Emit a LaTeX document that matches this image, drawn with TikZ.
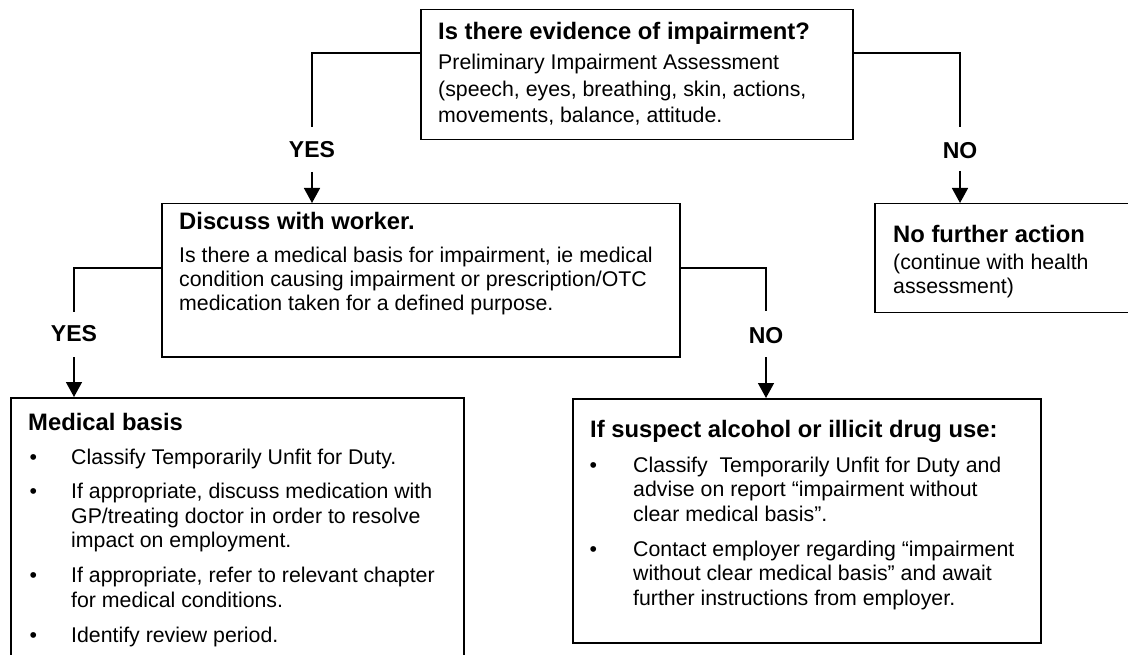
\documentclass[tikz,border=0pt]{standalone}
\usepackage{fontspec}
\setmainfont{Liberation Sans}
\usetikzlibrary{arrows.meta}
\renewcommand{\arraystretch}{1}
\begin{document}
\begin{tikzpicture}[x=1pt,y=-1pt,
  box/.style={draw, line width=1.5pt, inner sep=0pt, anchor=north west},
  conn/.style={line width=1.5pt},
  arr/.style={line width=1.5pt, -{Triangle[length=15pt,width=16pt]}},
  lbl/.style={font=\fontsize{23}{26}\selectfont\bfseries, inner sep=0pt},
  head/.style={font=\fontsize{23.8}{26}\selectfont\bfseries, anchor=base west, inner sep=0pt},
  body/.style={anchor=base west, inner sep=0pt},
]
\useasboundingbox (0,0) rectangle (1128,655);

% boxes
\node[box, minimum width=432pt, minimum height=130pt] (q1) at (420,9) {};
\node[box, minimum width=518pt, minimum height=153pt] (q2) at (161,203) {};
\node[box, minimum width=257pt, minimum height=109pt] (nfa) at (874,203) {};
\node[box, minimum width=453pt, minimum height=270pt] (med) at (10,397) {};
\node[box, minimum width=468pt, minimum height=244pt] (sus) at (572,398) {};

% box texts
\node[head] (q1h) at (438,40) {Is there evidence of impairment?};
\node[body] (q1b) at (438,70) {\fontsize{21.3}{26.5}\selectfont
  \begin{tabular}[t]{@{}l@{}}
  Preliminary Impairment Assessment\\
  (speech, eyes, breathing, skin, actions,\\
  movements, balance, attitude.
  \end{tabular}};

\node[head] (q2h) at (179,230) {Discuss with worker.};
\node[body] (q2b) at (179,263) {\fontsize{21.3}{24}\selectfont
  \begin{tabular}[t]{@{}l@{}}
  Is there a medical basis for impairment, ie medical\\
  condition causing impairment or prescription/OTC\\
  medication taken for a defined purpose.
  \end{tabular}};

\node[head] (nfah) at (893,243) {No further action};
\node[body] (nfab) at (893,270) {\fontsize{21.3}{23.5}\selectfont
  \begin{tabular}[t]{@{}l@{}}
  (continue with health\\
  assessment)
  \end{tabular}};

\node[head] (medh) at (28,430) {Medical basis};
\node[body] (medb) at (29.5,464) {\fontsize{21.3}{24.5}\selectfont
  \begin{tabular}[t]{@{}p{41.5pt}@{}l@{}}
  •& Classify Temporarily Unfit for Duty.\\[10pt]
  •& If appropriate, discuss medication with\\
   & GP/treating doctor in order to resolve\\
   & impact on employment.\\[10.5pt]
  •& If appropriate, refer to relevant chapter\\
   & for medical conditions.\\[10.5pt]
  •& Identify review period.
  \end{tabular}};

\node[head] (sush) at (590,437) {If suspect alcohol or illicit drug use:};
\node[body] (susb) at (589.5,472) {\fontsize{21.3}{24.5}\selectfont
  \begin{tabular}[t]{@{}p{43.5pt}@{}l@{}}
  •& Classify\ \ Temporarily Unfit for Duty and\\
   & advise on report “impairment without\\
   & clear medical basis”.\\[10.5pt]
  •& Contact employer regarding “impairment\\
   & without clear medical basis” and await\\
   & further instructions from employer.
  \end{tabular}};

% decision labels
\node[lbl] (yes1) at (312,150) {YES};
\node[lbl] (no1) at (960,151) {NO};
\node[lbl] (yes2) at (74,334) {YES};
\node[lbl] (no2) at (766,336) {NO};

% connector end points
\coordinate (q1y) at (420,53);
\coordinate (q1n) at (852,53);
\coordinate (y1a) at (312,127);
\coordinate (y1b) at (312,172);
\coordinate (n1a) at (960,127);
\coordinate (n1b) at (960,171);
\coordinate (q2y) at (161,268);
\coordinate (q2n) at (679,268);
\coordinate (y2a) at (74,312);
\coordinate (y2b) at (74,357);
\coordinate (n2a) at (766,311);
\coordinate (n2b) at (766,357);

% connectors
\draw[conn] (q1y) -| (y1a);
\draw[arr] (y1b) -- (y1b |- q2.north);
\draw[conn] (q1n) -| (n1a);
\draw[arr] (n1b) -- (n1b |- nfa.north);
\draw[conn] (q2y) -| (y2a);
\draw[arr] (y2b) -- (y2b |- med.north);
\draw[conn] (q2n) -| (n2a);
\draw[arr] (n2b) -- (n2b |- sus.north);
\end{tikzpicture}
\end{document}
